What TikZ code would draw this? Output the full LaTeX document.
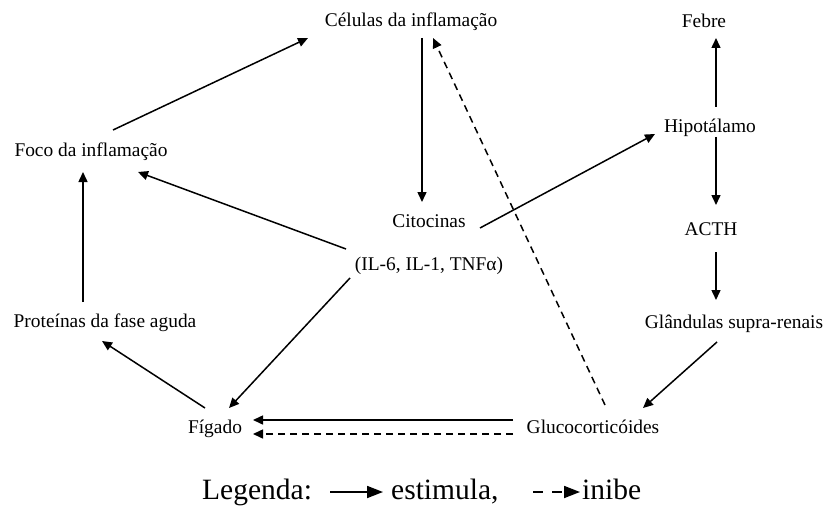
\documentclass[tikz,border=0pt]{standalone}
\usepackage{fontspec}
\setmainfont{Liberation Serif}
\usetikzlibrary{arrows.meta,calc}
\begin{document}
\begin{tikzpicture}[x=1pt,y=-1pt,
  lbl/.style={anchor=base,inner sep=0pt,font=\fontsize{19.4}{23}\selectfont},
  leg/.style={anchor=base west,inner sep=0pt,font=\fontsize{29.5}{34}\selectfont},
  arr/.style={line width=1.5pt,-{Triangle[length=10pt,width=9pt]}},
  inh/.style={arr,dash pattern=on 7pt off 5pt},
  legarr/.style={line width=1.8pt,-{Triangle[length=16pt,width=12pt]}}]
\useasboundingbox[fill=white] (0,0) rectangle (827,508);

% labels
\node[lbl] (celulas) at (411,27) {Células da inflamação};
\node[lbl] (febre)   at (704,28) {Febre};
\node[lbl] (hip)     at (710,132) {Hipotálamo};
\node[lbl] (foco)    at (91,157) {Foco da inflamação};
\node[lbl] (cito)    at (429,227) {Citocinas};
\node[lbl] (il)      at (429,270) {(IL-6, IL-1, TNFα)};
\node[lbl] (acth)    at (711,235) {ACTH};
\node[lbl] (prot)    at (105,327) {Proteínas da fase aguda};
\node[lbl] (gland)   at (734,328) {Glândulas supra-renais};
\node[lbl] (figado)  at (215,433) {Fígado};
\node[lbl] (gluco)   at (593,433) {Glucocorticóides};

% stimulation
\draw[arr] ($(foco.base)+(22,-27)$) -- ($(celulas.base)+(-103,11)$);
\draw[arr] ($(celulas.base)+(11,11)$) -- ($(cito.base)+(-7,-25)$);
\draw[arr] ($(il.base)+(-83,-21)$) -- ($(foco.base)+(47,15)$);
\draw[arr] ($(cito.base)+(51,1)$) -- ($(hip.base)+(-55,2)$);
\draw[arr] ($(il.base)+(-79,8)$) -- ($(figado.base)+(14,-25)$);
\draw[arr] ($(prot.base)+(-22,-25)$) -- ($(foco.base)+(-8,15)$);
\draw[arr] ($(figado.base)+(-10,-25)$) -- ($(prot.base)+(-3,14)$);
\draw[arr] ($(gluco.base)+(-80,-13)$) -- ($(figado.base)+(38,-13)$);
\draw[arr] ($(hip.base)+(6,-25)$) -- ($(febre.base)+(12,10)$);
\draw[arr] ($(hip.base)+(6,5)$) -- ($(acth.base)+(5,-30)$);
\draw[arr] ($(acth.base)+(5,17)$) -- ($(gland.base)+(-18,-28)$);
\draw[arr] ($(gland.base)+(-17,14)$) -- ($(gluco.base)+(50,-25)$);

% inhibition
\draw[inh] ($(gluco.base)+(-80,1)$) -- ($(figado.base)+(38,1)$);
\draw[inh] ($(gluco.base)+(12,-28)$) -- ($(celulas.base)+(22,11)$);

% legend
\node[leg] (legenda) at (202,499) {Legenda:};
\node[leg] (estim)   at (391,499) {estimula,};
\node[leg] (inibe)   at (582,499) {inibe};
\draw[legarr] (330,492) -- ($(estim.base west)+(-8,-7)$);
\draw[legarr,dash pattern=on 10pt off 9pt] (533,492) -- ($(inibe.base west)+(-2,-7)$);
\end{tikzpicture}
\end{document}
